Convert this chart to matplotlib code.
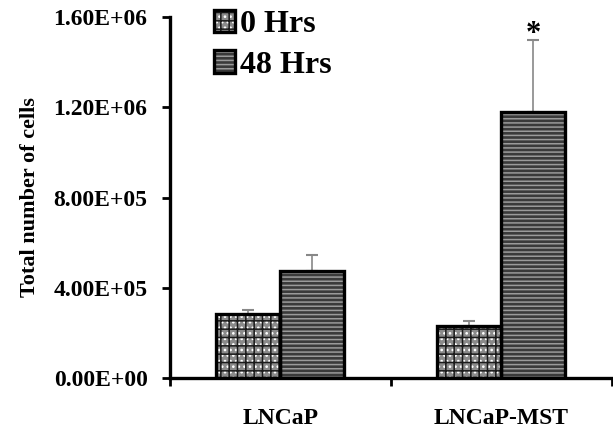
import matplotlib
matplotlib.use("Agg")
import matplotlib.pyplot as plt
from matplotlib.legend_handler import HandlerTuple
import numpy as np

# data
groups = ["LNCaP", "LNCaP-MST"]
series = ["0 Hrs", "48 Hrs"]
means_0h = [2.84e5, 2.30e5]
means_48h = [4.74e5, 1.18e6]
err_0h = [1.7e4, 2.3e4]
err_48h = [7.0e4, 3.2e5]
yticks = [0, 4e5, 8e5, 1.2e6, 1.6e6]
ytick_labels = ["0.00E+00", "4.00E+05", "8.00E+05", "1.20E+06", "1.60E+06"]

plt.rcParams['font.family'] = ['Liberation Serif', 'DejaVu Serif']
plt.rcParams['font.weight'] = 'bold'
plt.rcParams['hatch.linewidth'] = 1.1

fig = plt.figure(figsize=(6.13, 4.28), dpi=100)
ax = fig.add_axes([0.277, 0.117, 0.721, 0.843])

x = np.arange(len(groups))
w = 0.29

# 0 Hrs: gray with white dots and a dark grid
f0 = ax.bar(x - w / 2, means_0h, w, color='#8a8a8a', edgecolor='white',
            hatch='...', linewidth=0, zorder=2)
g0 = ax.bar(x - w / 2, means_0h, w, color='none', edgecolor='#1a1a1a',
            hatch='++', linewidth=0, zorder=2.5)
e0 = ax.bar(x - w / 2, means_0h, w, color='none', edgecolor='black', linewidth=2.4, zorder=3)

# 48 Hrs: dark brick pattern with light lines
f1 = ax.bar(x + w / 2, means_48h, w, color='#3a3a3a', edgecolor='#9a9a9a',
            hatch='----', linewidth=0, zorder=2)
e1 = ax.bar(x + w / 2, means_48h, w, color='none', edgecolor='black', linewidth=2.4, zorder=3)

ax.errorbar(x - w / 2, means_0h, yerr=[np.zeros(2), err_0h], fmt='none',
            ecolor='#888888', elinewidth=1.2, capsize=4, capthick=1.5, zorder=1)
ax.errorbar(x + w / 2, means_48h, yerr=[np.zeros(2), err_48h], fmt='none',
            ecolor='#888888', elinewidth=1.2, capsize=4, capthick=1.5, zorder=1)

# significance mark
ax.text(x[1] + w / 2, means_48h[1] + err_48h[1] + 2.5e4, '*', ha='center', va='center',
        fontsize=22, fontweight='bold')

ax.set_xlim(-0.5, 1.5)
ax.set_ylim(0, 1.6e6)
ax.set_yticks(yticks)
ax.set_yticklabels(ytick_labels, fontsize=17, fontweight='bold')
ax.set_xticks([-0.5, 0.5, 1.5])
ax.set_xticklabels([])
ax.set_xticks(x, minor=True)
ax.set_xticklabels(groups, minor=True, fontsize=17, fontweight='bold')
ax.tick_params(axis='x', which='minor', length=0, pad=22)
ax.tick_params(axis='x', which='major', length=6, width=2, direction='out')
ax.tick_params(axis='y', length=6, width=2, direction='out', pad=10)

for s in ['top', 'right']:
    ax.spines[s].set_visible(False)
for s in ['left', 'bottom']:
    ax.spines[s].set_linewidth(2.4)

ax.set_ylabel("Total number of cells", fontsize=16, fontweight='bold', labelpad=10)

ax.legend([(f0[0], g0[0], e0[0]), (f1[0], e1[0])], series, loc='upper left',
          bbox_to_anchor=(0.036, 1.10), frameon=False,
          handler_map={tuple: HandlerTuple(ndivide=1, pad=0)},
          handlelength=0.65, handleheight=0.7, handletextpad=0.15, labelspacing=0.35,
          prop={'weight': 'bold', 'size': 23})

fig.savefig("out.png", dpi=100, facecolor='white')
